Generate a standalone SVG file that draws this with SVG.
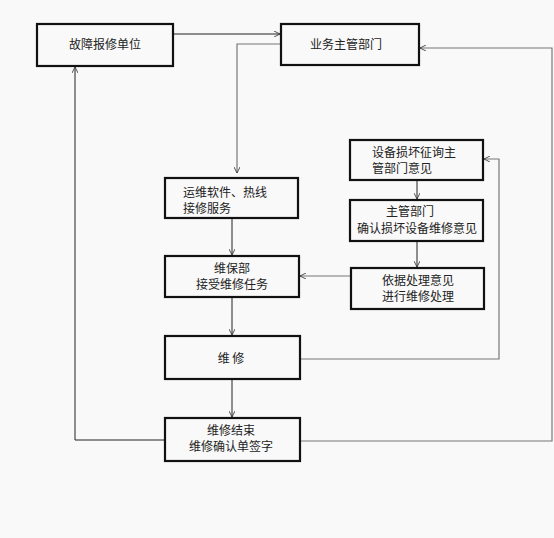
<svg xmlns="http://www.w3.org/2000/svg" width="554" height="538" viewBox="0 0 554 538">
<style>
.box{fill:#f9f9f9;stroke:#111;stroke-width:2.2}
.t{font-family:"Noto Sans CJK SC","Liberation Sans",sans-serif;font-size:12px;fill:#222}
.c{text-anchor:middle}
.ln{fill:none;stroke:#222;stroke-width:1}
.lg{fill:none;stroke:#777;stroke-width:1.2}
</style>
<defs>
<marker id="ah" viewBox="0 0 10 10" refX="10" refY="5" markerWidth="6" markerHeight="6" orient="auto" markerUnits="userSpaceOnUse">
<path d="M0,0 L10,5 L0,10" fill="none" stroke="#333" stroke-width="1.4"/>
</marker>
</defs>
<rect width="554" height="538" fill="#f9f9f9"/>
<g id="connectors">
<path class="ln" d="M173,34 H280" marker-end="url(#ah)"/>
<path class="lg" d="M281,44 H237 V173" marker-end="url(#ah)"/>
<path class="lg" d="M300,441 H552 V48 H420" marker-end="url(#ah)"/>
<path class="ln" d="M165,440 H75 V67" marker-end="url(#ah)"/>
<path class="lg" d="M300,359 H499 V159 H484" marker-end="url(#ah)"/>
<path class="ln" d="M232,218 V255" marker-end="url(#ah)"/>
<path class="ln" d="M232,297 V335" marker-end="url(#ah)"/>
<path class="ln" d="M232,379 V417" marker-end="url(#ah)"/>
<path class="ln" d="M417,180 V199" marker-end="url(#ah)"/>
<path class="ln" d="M417,241 V267" marker-end="url(#ah)"/>
<path class="lg" d="M351,276 H300" marker-end="url(#ah)"/>
</g>
<g id="n1"><rect class="box" x="37" y="24" width="136" height="42"/><text class="t c" x="105" y="49">故障报修单位</text></g>
<g id="n2"><rect class="box" x="281" y="24" width="138" height="41"/><text class="t c" x="346" y="49">业务主管部门</text></g>
<g id="n3"><rect class="box" x="165" y="178" width="133" height="40"/><text class="t" x="183" y="197">运维软件、热线</text><text class="t" x="183" y="213">接修服务</text></g>
<g id="n4"><rect class="box" x="165" y="256" width="134" height="41"/><text class="t c" x="232" y="273">维保部</text><text class="t c" x="232" y="289">接受维修任务</text></g>
<g id="n5"><rect class="box" x="165" y="336" width="135" height="43"/><text class="t c" x="231" y="363">维 修</text></g>
<g id="n6"><rect class="box" x="165" y="418" width="135" height="43"/><text class="t c" x="231" y="435">维修结束</text><text class="t c" x="231" y="451">维修确认单签字</text></g>
<g id="n7"><rect class="box" x="350" y="140" width="133" height="40"/><text class="t" x="372" y="157">设备损坏征询主</text><text class="t" x="372" y="173">管部门意见</text></g>
<g id="n8"><rect class="box" x="350" y="200" width="133" height="41"/><text class="t c" x="410" y="216">主管部门</text><text class="t c" x="417" y="233">确认损坏设备维修意见</text></g>
<g id="n9"><rect class="box" x="351" y="268" width="133" height="41"/><text class="t" x="382" y="285">依据处理意见</text><text class="t" x="382" y="301">进行维修处理</text></g>
</svg>
